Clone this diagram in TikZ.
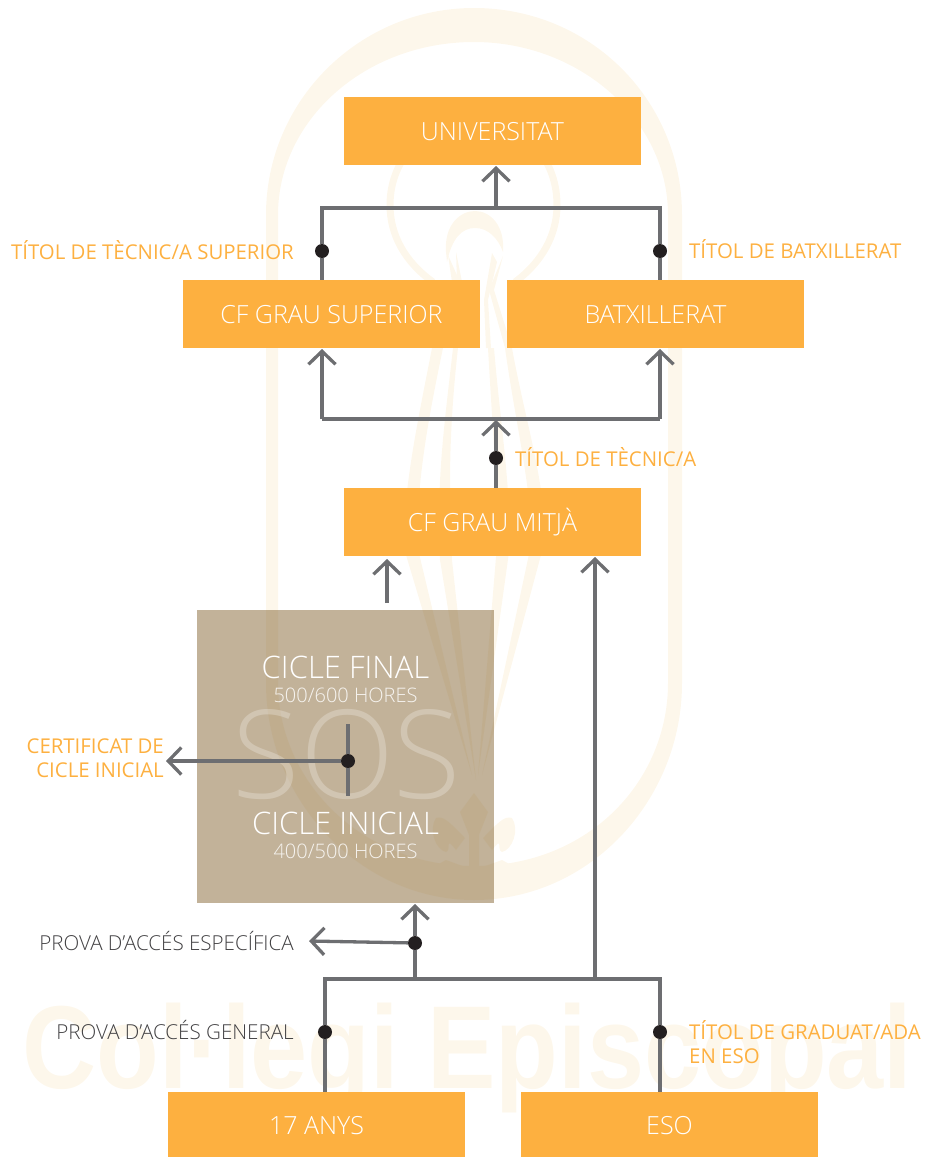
\documentclass[tikz,border=0pt]{standalone}
\usepackage{fontspec}
\setmainfont{Open Sans Light}
\newfontfamily\regfont{Open Sans}
\newfontfamily\boldfont{Liberation Sans Bold}
\usetikzlibrary{arrows.meta}
\definecolor{boxorange}{HTML}{FDB040}
\definecolor{linegray}{HTML}{6D6E71}
\definecolor{dotblack}{HTML}{231F20}
\definecolor{darktext}{HTML}{414042}
\definecolor{cream}{HTML}{FDF7EB}
\definecolor{sosbrown}{HTML}{856533}
\tikzset{
    x=1pt, y=-1pt,
    mybox/.style = {rectangle, fill=boxorange, text=white, minimum width=297pt, minimum height=68pt, inner sep=0pt, text height=18pt, text depth=0pt, font=\fontsize{25}{25}\selectfont},
    mydot/.style = {circle, fill=dotblack, minimum size=14pt, inner sep=0pt},
    cicle/.style = {text=white, inner sep=0pt, font=\fontsize{31}{31}\selectfont},
    hores/.style = {text=white, text opacity=.85, inner sep=0pt, font=\fontsize{20}{20}\selectfont},
    labo/.style = {text=boxorange, inner sep=0pt, font=\regfont\fontsize{20.4}{24}\selectfont},
    labd/.style = {text=darktext, inner sep=0pt, font=\fontsize{20.6}{24}\selectfont},
    edgen/.style = {line width=3.3pt, draw=linegray},
    edgea/.style = {edgen, -{Straight Barb[length=13pt,width=27pt,line width=3.3pt]}},
    wmark/.style = {fill=cream, draw=none},
    wthin/.style = {draw=cream, line width=7pt, fill=none}
}
\begin{document}
\begin{tikzpicture}
\useasboundingbox (0,0) rectangle (928,1157);
% background marks
\fill[wmark, even odd rule] (266,215) .. controls (266,100) and (360,8) .. (474,8) .. controls (590,8) and (682,100) .. (682,215) -- (682,683) .. controls (682,800) and (590,900) .. (474,900) .. controls (360,900) and (266,800) .. (266,683) -- cycle
  (278,215) .. controls (278,120) and (365,42) .. (474,42) .. controls (580,42) and (668,120) .. (668,215) -- (668,683) .. controls (668,780) and (590,866) .. (474,866) .. controls (360,866) and (278,780) .. (278,683) -- cycle;
\draw[wthin] (433,282) .. controls (405,262) and (390,235) .. (390,205) .. controls (390,155) and (430,120) .. (474,120) .. controls (520,120) and (557,155) .. (557,205) .. controls (557,235) and (542,262) .. (515,282);
\fill[wmark] (446,252) .. controls (444,225) and (460,211) .. (475,211) .. controls (490,211) and (505,225) .. (503,252) .. controls (498,238) and (488,228) .. (475,228) .. controls (462,228) and (452,238) .. (447,262) -- cycle;
\fill[wmark] (448,255) -- (460,282) -- (452,282) -- cycle;
\fill[wmark] (456,252) -- (462,282) -- (457,282) -- cycle;
\fill[wmark] (492,253) -- (497,262) -- (488,300) -- (491,348) -- (486,348) -- (484,300) -- cycle;
\fill[wmark] (503,256) -- (494,290) -- (512,348) -- (505,348) -- (489,290) -- cycle;
\fill[wmark] (432,348) -- (443,348) .. controls (428,420) and (417,480) .. (417,545) -- (472,775) -- (403,545) .. controls (405,480) and (418,420) .. (432,348) -- cycle;
\fill[wmark] (453,348) -- (458,348) .. controls (450,420) and (448,480) .. (452,560) -- (476,780) -- (440,560) .. controls (436,480) and (445,420) .. (453,348) -- cycle;
\fill[wmark] (488,348) -- (494,348) .. controls (500,420) and (510,480) .. (510,545) -- (478,775) -- (497,545) .. controls (497,480) and (492,420) .. (488,348) -- cycle;
\fill[wmark] (505,348) -- (512,348) .. controls (525,420) and (545,480) .. (545,540) -- (482,775) -- (532,540) .. controls (530,480) and (515,420) .. (505,348) -- cycle;
% fleur
\fill[wmark] (474,793) -- (488,812) -- (479,835) -- (479,897) -- (469,897) -- (469,835) -- (460,812) -- cycle;
\foreach \s in {1,-1} {
  \begin{scope}[shift={(474,0)}, xscale=\s]
    \fill[wmark] (9,838) .. controls (22,825) and (30,815) .. (38,818) .. controls (46,830) and (38,850) .. (28,852) .. controls (22,850) and (30,835) .. (18,850) -- cycle;
    \fill[wmark] (50,872) -- (28,860) -- (6,868) -- (28,882) -- cycle;
    \fill[wmark] (8,880) .. controls (20,876) and (34,880) .. (34,890) .. controls (30,897) and (20,897) .. (14,895) .. controls (24,892) and (24,884) .. (8,888) -- cycle;
  \end{scope}
}
\node[font=\boldfont\fontsize{118}{118}\selectfont, text=cream, inner sep=0pt, xscale=.87] (wm) at (467.5,1058) {Col·legi Episcopal};
% boxes
\node[mybox] (univ) at (492.5,131) {UNIVERSITAT};
\node[mybox] (cfgs) at (331.5,314) {CF GRAU SUPERIOR};
\node[mybox] (batx) at (655.5,314) {BATXILLERAT};
\node[mybox] (cfgm) at (492.5,522) {CF GRAU MITJÀ};
\node[mybox, minimum height=65pt, text height=20pt] (anys) at (316.5,1124.5) {17 ANYS};
\node[mybox, minimum height=65pt, text height=20pt] (eso) at (669.5,1124.5) {ESO};
\node[rectangle, fill=sosbrown, fill opacity=.5, minimum width=297pt, minimum height=293pt, inner sep=0pt] (sos) at (345.5,756.5) {};
\node[text=white, text opacity=.25, font=\fontsize{123}{123}\selectfont, inner sep=0pt] (sost) at (347,754) {SOS};
\node[cicle] (final) at (345.5,667) {CICLE FINAL};
\node[hores] (hfinal) at (345.5,695) {500/600 HORES};
\node[cicle] (inicial) at (345.5,823) {CICLE INICIAL};
\node[hores] (hinicial) at (345.5,851) {400/500 HORES};
% junctions
\coordinate (t1) at (322,208);
\coordinate (t2) at (660,208);
\coordinate (t3) at (496,208);
\coordinate (m1) at (322,419);
\coordinate (m2) at (660,419);
\coordinate (b1) at (325,979);
\coordinate (b2) at (660,979);
\coordinate (b3) at (415,979);
\coordinate (b4) at (595,979);
\coordinate (s1) at (387,603);
\coordinate (s2) at (348,724);
\coordinate (s3) at (348,796);
\coordinate (a1) at (496,166);
\coordinate (a2) at (322,349);
\coordinate (a3) at (660,349);
\coordinate (a4) at (496,420);
\coordinate (a5) at (387,559);
\coordinate (a6) at (595,557);
\coordinate (a7) at (415,904);
\coordinate (a8) at (166,761);
\coordinate (a9) at (309,941);
% dots
\node[mydot] (d1) at (322,251) {};
\node[mydot] (d2) at (660,251) {};
\node[mydot] (d3) at (496,458) {};
\node[mydot] (d4) at (348,761) {};
\node[mydot] (d5) at (415,943) {};
\node[mydot] (d6) at (325,1032) {};
\node[mydot] (d7) at (660,1032) {};
% labels
\node[labo, anchor=east] (ltecs) at (294,250) {TÍTOL DE TÈCNIC/A SUPERIOR};
\node[labo, anchor=west] (lbatx) at (689,249) {TÍTOL DE BATXILLERAT};
\node[labo, anchor=west] (ltec) at (515,457) {TÍTOL DE TÈCNIC/A};
\node[labo, anchor=east, align=right] (lcert) at (164,758) {CERTIFICAT DE\\CICLE INICIAL};
\node[labd, anchor=east] (lesp) at (294,941) {PROVA D’ACCÉS ESPECÍFICA};
\node[labd, anchor=east] (lgen) at (294,1030) {PROVA D’ACCÉS GENERAL};
\node[labo, anchor=north west, align=left] (lgrad) at (689,1020) {TÍTOL DE GRADUAT/ADA\\EN ESO};
% connectors
\draw[edgen] (cfgs.north -| d1) -- (d1) -- (t1) -- (t2) -- (d2) -- (batx.north -| d2);
\draw[edgea] (t3) -- (a1);
\draw[edgea] (m1) -- (a2);
\draw[edgea] (m2) -- (a3);
\draw[edgen] (m1) -- (m2);
\draw[edgen] (cfgm.north -| d3) -- (d3);
\draw[edgea] (d3) -- (a4);
\draw[edgea] (s1) -- (a5);
\draw[edgea] (b4) -- (a6);
\draw[edgen] (anys.north -| d6) -- (d6) -- (b1) -- (b2) -- (d7) -- (eso.north -| d7);
\draw[edgen] (b3) -- (d5);
\draw[edgea] (d5) -- (a7);
\draw[edgea] (d5) -- (a9);
\draw[edgen] (s2) -- (d4) -- (s3);
\draw[edgea] (d4) -- (a8);
\end{tikzpicture}
\end{document}
